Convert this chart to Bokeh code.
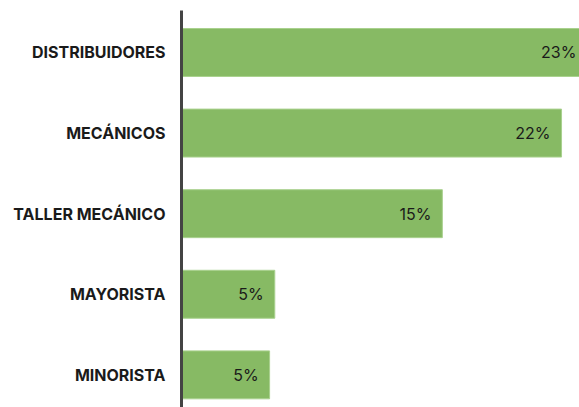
from bokeh.plotting import figure
from bokeh.models import ColumnDataSource, Range1d, FixedTicker
from bokeh.core.properties import value
from bokeh.embed import file_html
from bokeh.resources import INLINE

categories = ["DISTRIBUIDORES", "MECÁNICOS", "TALLER MECÁNICO", "MAYORISTA", "MINORISTA"]
values = [23.5, 22.0, 15.1, 5.4, 5.1]
labels = ["23%", "22%", "15%", "5%", "5%"]

n = len(categories)
ypos = [n - 1 - i for i in range(n)]

src = ColumnDataSource(dict(y=ypos, v=values, lab=labels, cat=categories))

p = figure(width=579, height=407, output_backend="svg", toolbar_location=None,
           x_range=Range1d(0, 23.04), y_range=Range1d(-0.405, 4.521),
           x_axis_location=None, min_border_left=181, min_border_top=10,
           min_border_bottom=0, min_border_right=0)
p.outline_line_color = None
p.xgrid.visible = False
p.ygrid.visible = False
p.background_fill_color = "white"
p.border_fill_color = "white"

p.hbar(y="y", left=0, right="v", height=0.595, source=src,
       fill_color="#87BA64", line_color="#A9D18E", line_width=1)

p.text(x="v", y="y", text="lab", source=src, x_offset=-11,
       text_align="right", text_baseline="middle",
       text_font_size="16px", text_color="#1a1a1a", text_font=value("Inter"))

ax = p.yaxis[0]
ax.ticker = FixedTicker(ticks=ypos)
ax.major_label_overrides = {y: c for y, c in zip(ypos, categories)}
ax.major_tick_line_color = None
ax.minor_tick_line_color = None
ax.major_tick_out = 0
ax.major_tick_in = 0
ax.major_label_standoff = 16
ax.axis_line_color = "#444444"
ax.axis_line_width = 3
ax.major_label_text_font = "Inter"
ax.major_label_text_font_size = "16px"
ax.major_label_text_font_style = "bold"
ax.major_label_text_color = "#1a1a1a"

open("out.html", "w").write(file_html(p, INLINE))
